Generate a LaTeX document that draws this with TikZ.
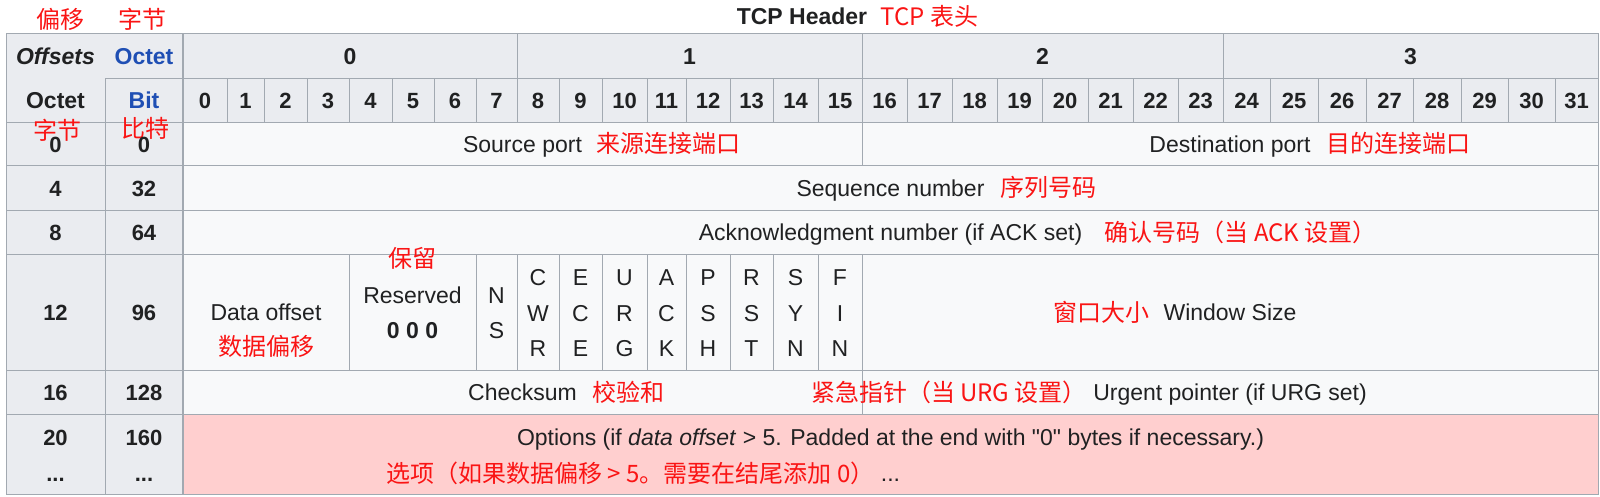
\documentclass[tikz,border=0pt]{standalone}
\usepackage{fontspec}
\setmainfont{Liberation Sans}[Ligatures=TeXOff]
\newfontfamily\cjk{Noto Sans CJK SC}
\usepackage{tikz}
\usetikzlibrary{positioning}
\definecolor{hdrgray}{HTML}{EAECF0}
\definecolor{cellgray}{HTML}{F8F9FA}
\definecolor{linegray}{HTML}{A2A9B1}
\definecolor{optpink}{HTML}{FFCFCF}
\definecolor{wikiblue}{HTML}{1F4FB4}
\definecolor{txtblack}{HTML}{202122}
\definecolor{notered}{RGB}{250,20,20}
\tikzstyle{tabline} = [draw=linegray, line width=1pt]
\tikzstyle{txt} = [inner sep=0pt, text height=17pt, text depth=0pt, text=txtblack,
    font=\fontsize{23}{27}\selectfont]
\tikzstyle{thtxt} = [txt, font=\fontsize{23}{27}\selectfont\bfseries]
\tikzstyle{bitnum} = [txt, font=\fontsize{22}{26}\selectfont\bfseries]
\tikzstyle{note} = [inner sep=0pt, text height=21pt, text depth=3pt, text=notered,
    font=\cjk\fontsize{24}{28}\selectfont]

\begin{document}
\begin{tikzpicture}[x=1pt,y=-1pt]
    \useasboundingbox (0,0) rectangle (1600,496);
    % Cell backgrounds
    \fill[hdrgray] (6,33) rectangle (1598,122);
    \fill[hdrgray] (6,122) rectangle (183,494);
    \fill[cellgray] (183,122) rectangle (1598,414);
    \fill[optpink] (183,414) rectangle (1598,494);
    % Table lines
    \draw[tabline] (6,33) rectangle (1598,494);
    \draw[tabline] (105,78) -- (1598,78);
    \foreach \y in {122,165,210,254,370,414}
        \draw[tabline] (6,\y) -- (1598,\y);
    \draw[tabline] (105,78) -- (105,494);
    \draw[tabline, line width=2pt] (183,33) -- (183,494);
    \foreach \x in {517,862,1223}
        \draw[tabline] (\x,33) -- (\x,78);
    \draw[tabline] (862,122) -- (862,165);
    \foreach \x in {349,476,517,559,602,647,686,730,773,818,862}
        \draw[tabline] (\x,254) -- (\x,370);
    \draw[tabline] (862,370) -- (862,414);

    % Title
    \node[thtxt] (title) at (802,16) {TCP Header};
    \node[note, right=13pt of title] (titlecn) {TCP 表头};

    % Header rows
    \node[thtxt, font=\fontsize{23}{27}\selectfont\bfseries\itshape] (offsets) at (55.5,56) {Offsets};
    \node[thtxt, text=wikiblue] (octethd) at (144,56) {Octet};
    \node[thtxt] (octet) at (55.5,100) {Octet};
    \node[thtxt, text=wikiblue] (bit) at (144,100) {Bit};
    \node[note] (offcn) at (60,19) {偏移};
    \node[note] (octhdcn) at (142,19) {字节};
    \node[note] (octcn) at (57,130) {字节};
    \node[note] (bitcn) at (145,128) {比特};
    \node[thtxt] (byte0) at (350,56) {0};
    \node[thtxt] (byte1) at (689.5,56) {1};
    \node[thtxt] (byte2) at (1042.5,56) {2};
    \node[thtxt] (byte3) at (1410.5,56) {3};
    \foreach \b/\xl/\xr in {0/183/227, 1/227/264, 2/264/307, 3/307/349, 4/349/392,
        5/392/434, 6/434/476, 7/476/517, 8/517/559, 9/559/602, 10/602/647, 11/647/686,
        12/686/730, 13/730/773, 14/773/818, 15/818/862, 16/862/907, 17/907/952,
        18/952/997, 19/997/1042, 20/1042/1088, 21/1088/1133, 22/1133/1178,
        23/1178/1223, 24/1223/1270, 25/1270/1318, 26/1318/1366, 27/1366/1413,
        28/1413/1461, 29/1461/1508, 30/1508/1555, 31/1555/1598} {
        \draw[tabline] (\xr,78) -- (\xr,122);
        \node[bitnum] (bit\b) at ({(\xl+\xr)/2},100) {\b};
    }

    % Row offsets
    \node[bitnum] (off0) at (55.5,143.5) {0};
    \node[bitnum] (pos0) at (144,143.5) {0};
    \node[bitnum] (off4) at (55.5,187.5) {4};
    \node[bitnum] (pos32) at (144,187.5) {32};
    \node[bitnum] (off8) at (55.5,232) {8};
    \node[bitnum] (pos64) at (144,232) {64};
    \node[bitnum] (off12) at (55.5,312) {12};
    \node[bitnum] (pos96) at (144,312) {96};
    \node[bitnum] (off16) at (55.5,392) {16};
    \node[bitnum] (pos128) at (144,392) {128};
    \node[bitnum] (off20) at (55.5,437) {20};
    \node[bitnum] (pos160) at (144,437) {160};
    \node[bitnum] (offmore) at (55.5,473) {...};
    \node[bitnum] (posmore) at (144,473) {...};

    % Fields
    \node[txt] (src) at (522.5,143.5) {Source port};
    \node[note, right=14pt of src] (srccn) {来源连接端口};
    \node[txt] (dst) at (1230,143.5) {Destination port};
    \node[note, right=16pt of dst] (dstcn) {目的连接端口};
    \node[txt] (seq) at (890.5,187.5) {Sequence number};
    \node[note, right=16pt of seq] (seqcn) {序列号码};
    \node[txt] (ack) at (890.5,232) {Acknowledgment number (if ACK set)};
    \node[note, right=22pt of ack] (ackcn) {确认号码（当 ACK 设置）};
    \node[txt] (doff) at (266,312) {Data offset};
    \node[note, below=14pt of doff] (doffcn) {数据偏移};
    \node[txt] (rsv) at (412.5,295) {Reserved};
    \node[thtxt] (rsvbits) at (412.5,330) {0 0 0};
    \node[note, above=16pt of rsv] (rsvcn) {保留};
    \node[txt] (nsN) at (496.5,295) {N};
    \node[txt] (nsS) at (496.5,330) {S};
    \foreach \f/\x/\a/\b/\c in {cwr/538/C/W/R, ece/580.5/E/C/E, urgf/624.5/U/R/G,
        ackf/666.5/A/C/K, psh/708/P/S/H, rst/751.5/R/S/T, syn/795.5/S/Y/N, fin/840/F/I/N} {
        \node[txt] (\f-1) at (\x,277) {\a};
        \node[txt] (\f-2) at (\x,313) {\b};
        \node[txt] (\f-3) at (\x,348) {\c};
    }
    \node[txt] (win) at (1230,312) {Window Size};
    \node[note, left=14pt of win] (wincn) {窗口大小};
    \node[txt] (csum) at (522.5,392) {Checksum};
    \node[note, right=15pt of csum] (csumcn) {校验和};
    \node[txt] (urg) at (1230,392) {Urgent pointer (if URG set)};
    \node[note, left=6pt of urg] (urgcn) {紧急指针（当 URG 设置）};
    \node[txt] (opt) at (890.5,437) {Options (if \textit{data offset} > 5. Padded at the end with "0" bytes if necessary.)};
    \node[txt] (optdots) at (890.5,473) {...};
    \node[note, left=6pt of optdots] (optcn) {选项（如果数据偏移 > 5。需要在结尾添加 0）};
\end{tikzpicture}
\end{document}
